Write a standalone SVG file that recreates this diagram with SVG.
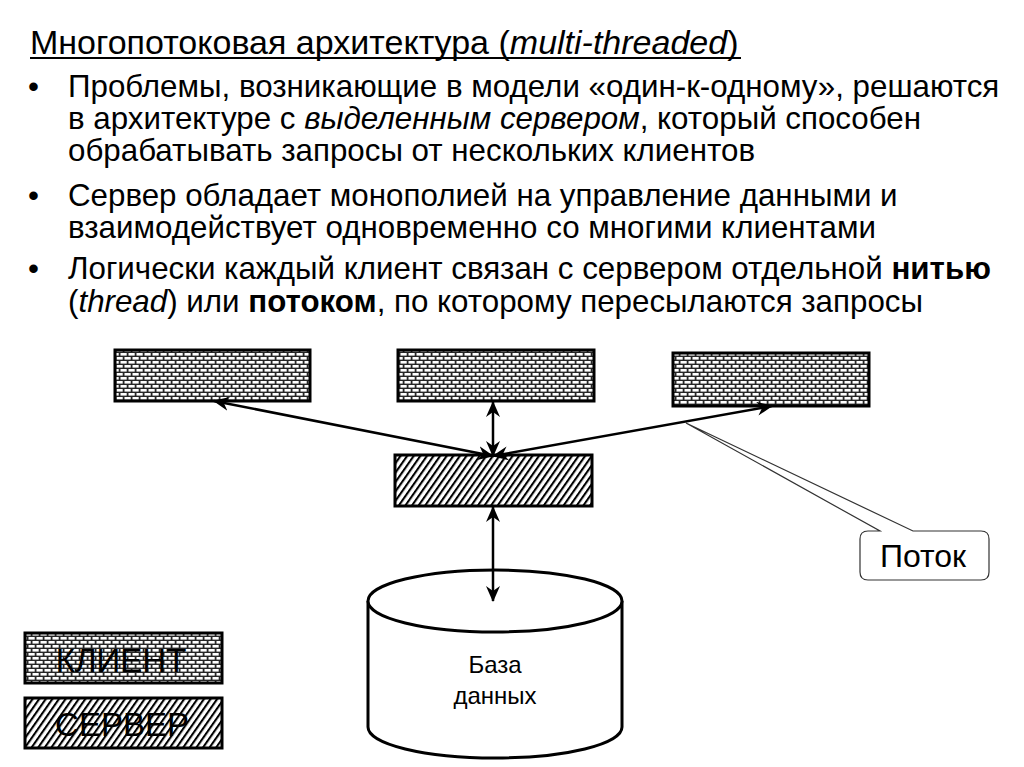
<svg xmlns="http://www.w3.org/2000/svg" width="1024" height="767" viewBox="0 0 1024 767">
<style>
  text { font-family: "Liberation Sans", Arial, sans-serif; fill: #000; }
  .title { font-size: 34px; }
  .body { font-size: 31.3px; }
  .it { font-style: italic; }
  .b { font-weight: bold; }
  .client { fill: url(#brick); stroke: #000; stroke-width: 3; }
  .server { fill: url(#hatch); stroke: #000; stroke-width: 3; }
  .conn { stroke: #000; stroke-width: 2.5; fill: none; marker-start: url(#ah); marker-end: url(#ah); }
  .legend { font-size: 33px; text-anchor: middle; }
  .db { font-size: 24px; text-anchor: middle; }
</style>
<defs>
  <pattern id="brick" width="8" height="8" patternUnits="userSpaceOnUse">
    <rect width="8" height="8" fill="#262626"/>
    <rect x="0.5" y="1" width="6.2" height="2.6" fill="#fff"/>
    <rect x="4.5" y="5" width="6.2" height="2.6" fill="#fff"/>
    <rect x="-3.5" y="5" width="6.2" height="2.6" fill="#fff"/>
  </pattern>
  <pattern id="hatch" width="5.4" height="10" patternUnits="userSpaceOnUse" patternTransform="rotate(35)">
    <rect width="5.4" height="10" fill="#fff"/>
    <rect x="0" y="0" width="2.1" height="10" fill="#000"/>
  </pattern>
  <marker id="ah" viewBox="0 0 16 14" refX="15" refY="7" markerWidth="16" markerHeight="14" markerUnits="userSpaceOnUse" orient="auto-start-reverse">
    <path d="M0,0 L16,7 L0,14 L5,7 Z" fill="#000"/>
  </marker>
</defs>

<g id="title">
  <text class="title" x="30" y="54">Многопотоковая архитектура (<tspan class="it">multi-threaded</tspan>)</text>
  <line x1="30" y1="58" x2="741" y2="58" stroke="#000" stroke-width="2"/>
</g>

<g id="bullets">
  <text class="body" x="28" y="97">•</text>
  <text class="body" x="68" y="97">Проблемы, возникающие в модели «один-к-одному», решаются</text>
  <text class="body" x="68" y="129">в архитектуре с <tspan class="it">выделенным сервером</tspan>, который способен</text>
  <text class="body" x="68" y="161">обрабатывать запросы от нескольких клиентов</text>
  <text class="body" x="28" y="206">•</text>
  <text class="body" x="68" y="206">Сервер обладает монополией на управление данными и</text>
  <text class="body" x="68" y="238">взаимодействует одновременно со многими клиентами</text>
  <text class="body" x="28" y="279">•</text>
  <text class="body" x="68" y="279">Логически каждый клиент связан с сервером отдельной <tspan class="b">нитью</tspan></text>
  <text class="body" x="68" y="312">(<tspan class="it">thread</tspan>) или <tspan class="b">потоком</tspan>, по которому пересылаются запросы</text>
</g>

<g id="client1"><rect class="client" x="115" y="350" width="195" height="51"/></g>
<g id="client2"><rect class="client" x="398" y="350" width="196" height="51"/></g>
<g id="client3"><rect class="client" x="673" y="353" width="196" height="53"/></g>
<g id="server"><rect class="server" x="395" y="455" width="197" height="51"/></g>

<g id="database">
  <path d="M368,601 L368,727 A127,31 0 0 0 622,727 L622,601" fill="#fff" stroke="#000" stroke-width="3"/>
  <ellipse cx="495" cy="601" rx="127" ry="31" fill="#fff" stroke="#000" stroke-width="3"/>
  <text class="db" x="495" y="673">База</text>
  <text class="db" x="495" y="704">данных</text>
</g>

<g id="connectors">
  <line class="conn" x1="493" y1="456" x2="214" y2="401"/>
  <line class="conn" x1="493" y1="456" x2="493" y2="402"/>
  <line class="conn" x1="493" y1="456" x2="772" y2="406"/>
  <line class="conn" x1="493" y1="507" x2="493" y2="601"/>
</g>

<g id="thread-callout">
  <path d="M868,531 L880,531 L686,423 L913,531 L981,531 Q989,531 989,539 L989,572 Q989,580 981,580 L868,580 Q860,580 860,572 L860,539 Q860,531 868,531 Z" fill="#fff" stroke="#333" stroke-width="1.2"/>
  <text x="923" y="567" font-size="32" text-anchor="middle">Поток</text>
</g>

<g id="legend-client">
  <rect class="client" x="25" y="633" width="197" height="50"/>
  <text class="legend" x="121" y="672">КЛИЕНТ</text>
</g>
<g id="legend-server">
  <rect class="server" x="25" y="698" width="197" height="50"/>
  <text class="legend" x="122" y="736">СЕРВЕР</text>
</g>
</svg>
